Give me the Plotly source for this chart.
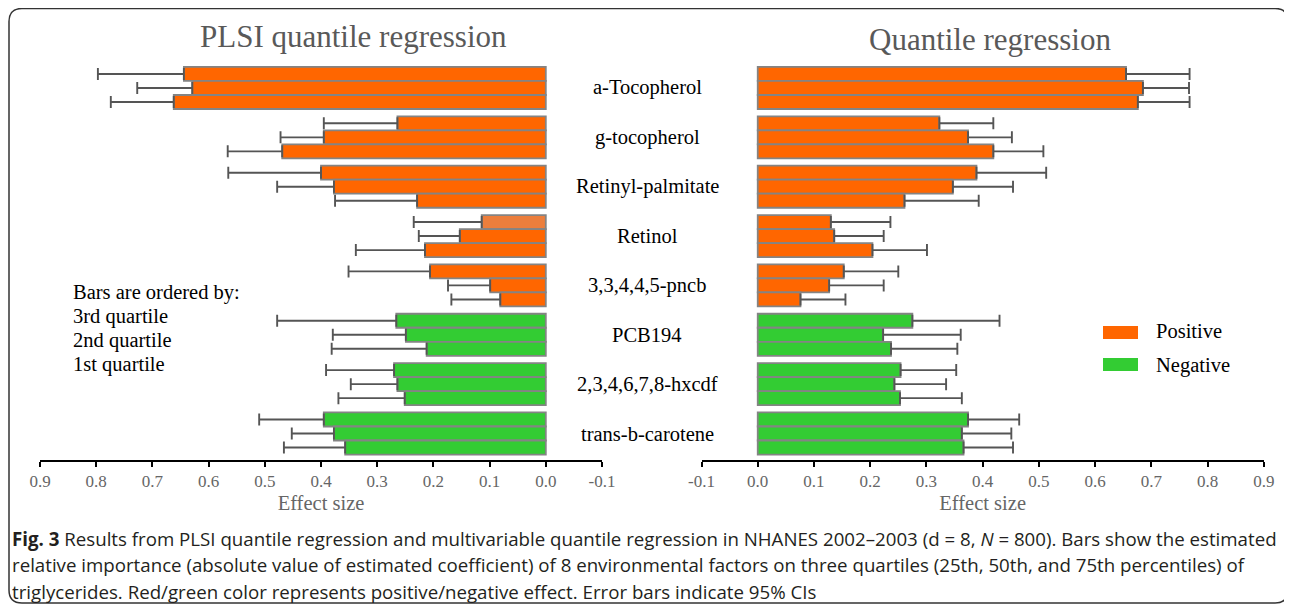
import plotly.graph_objects as go

# page has an 8px body margin; figure is sized to fill the remaining window
OFF = 8
W, H = 1292 - OFF, 609 - OFF

factors = ["a-Tocopherol", "g-tocopherol", "Retinyl-palmitate", "Retinol",
           "3,3,4,4,5-pncb", "PCB194", "2,3,4,6,7,8-hxcdf", "trans-b-carotene"]
sign = ["pos", "pos", "pos", "pos", "pos", "neg", "neg", "neg"]

# PLSI quantile regression (left panel): estimate and upper CI
plsi_q3 = [0.644, 0.264, 0.400, 0.114, 0.206, 0.266, 0.270, 0.395]
plsi_q3_hi = [0.797, 0.395, 0.565, 0.235, 0.351, 0.478, 0.391, 0.510]
plsi_q2 = [0.629, 0.395, 0.377, 0.153, 0.099, 0.249, 0.264, 0.377]
plsi_q2_hi = [0.727, 0.472, 0.478, 0.226, 0.174, 0.379, 0.347, 0.452]
plsi_q1 = [0.662, 0.469, 0.229, 0.215, 0.081, 0.212, 0.251, 0.357]
plsi_q1_hi = [0.774, 0.566, 0.375, 0.338, 0.168, 0.381, 0.369, 0.466]

# Multivariable quantile regression (right panel)
qr_q3 = [0.655, 0.323, 0.389, 0.130, 0.153, 0.275, 0.254, 0.374]
qr_q3_hi = [0.768, 0.419, 0.513, 0.236, 0.250, 0.430, 0.353, 0.465]
qr_q2 = [0.685, 0.374, 0.347, 0.136, 0.127, 0.223, 0.243, 0.363]
qr_q2_hi = [0.767, 0.452, 0.454, 0.224, 0.224, 0.361, 0.335, 0.451]
qr_q1 = [0.676, 0.419, 0.261, 0.204, 0.076, 0.237, 0.253, 0.366]
qr_q1_hi = [0.768, 0.508, 0.393, 0.301, 0.156, 0.355, 0.363, 0.454]

tick_vals = [-0.1, 0.0, 0.1, 0.2, 0.3, 0.4, 0.5, 0.6, 0.7, 0.8, 0.9]
tick_text = ["-0.1", "0.0", "0.1", "0.2", "0.3", "0.4", "0.5", "0.6", "0.7", "0.8", "0.9"]

caption_lines = [
    "<b>Fig. 3</b> Results from PLSI quantile regression and multivariable quantile regression in "
    "NHANES 2002–2003 (d = 8, <i>N</i> = 800). Bars show the estimated",
    "relative importance (absolute value of estimated coefficient) of 8 environmental factors on three "
    "quartiles (25th, 50th, and 75th percentiles) of",
    "triglycerides. Red/green color represents positive/negative effect. Error bars indicate 95% CIs",
]

ORANGE = "#FF6600"
GREEN = "#33CC33"
LIGHT_ORANGE = "#EC7E3C"


def px(x):
    return (x - OFF) / W


def py(y):
    return 1 - (y - OFF) / H


def colors(special=None):
    c = [ORANGE if s == "pos" else GREEN for s in sign]
    if special is not None:
        c[special] = LIGHT_ORANGE
    return c


SERIF = "Liberation Serif, Times New Roman, serif"

fig = go.Figure()

panels = [
    ("x", "y", [(plsi_q3, plsi_q3_hi, 3), (plsi_q2, plsi_q2_hi, None), (plsi_q1, plsi_q1_hi, None)]),
    ("x2", "y2", [(qr_q3, qr_q3_hi, None), (qr_q2, qr_q2_hi, None), (qr_q1, qr_q1_hi, None)]),
]
names = ["3rd quartile", "2nd quartile", "1st quartile"]
for xa, ya, series in panels:
    for (vals, hi, special), nm in zip(series, names):
        fig.add_trace(go.Bar(
            x=vals, y=factors, orientation="h", xaxis=xa, yaxis=ya, name=nm,
            showlegend=False,
            marker=dict(color=colors(special), line=dict(color="#848484", width=1.8)),
            error_x=dict(type="data", symmetric=False,
                         array=[h - v for h, v in zip(hi, vals)],
                         arrayminus=[0] * len(vals),
                         color="#555555", thickness=1.9, width=6),
        ))

y_bottom = 7 + 26.5 / 49.36
yrange = [y_bottom, -0.5]
ydom = [py(460), py(63.3)]


def xaxis_style(domain, rng, anchor):
    return dict(
        domain=domain, range=rng, anchor=anchor, automargin=False,
        tickmode="array", tickvals=tick_vals, ticktext=tick_text,
        showline=True, linecolor="black",
        linewidth=2, ticks="outside", ticklen=5, tickwidth=2, tickcolor="black",
        tickfont=dict(family=SERIF, size=17, color="#666666"), showgrid=False,
        zeroline=False,
        title=dict(text="Effect size", font=dict(family=SERIF, size=20.5, color="#666666"), standoff=5),
    )


def yaxis_style(anchor):
    return dict(domain=ydom, range=yrange, type="category", categoryarray=factors,
                showticklabels=False, showgrid=False, zeroline=False, showline=False,
                anchor=anchor, automargin=False)


fig.update_layout(
    template="none",
    width=W, height=H, margin=dict(l=0, r=0, t=0, b=0, pad=0), autosize=False,
    paper_bgcolor="white", plot_bgcolor="rgba(0,0,0,0)",
    barmode="group", bargap=0.148, bargroupgap=0,
    xaxis=xaxis_style([px(40), px(602)], [0.9, -0.1], "y"),
    xaxis2=xaxis_style([px(701.5), px(1263.8)], [-0.1, 0.9], "y2"),
    yaxis=yaxis_style("x"),
    yaxis2=yaxis_style("x2"),
    showlegend=False,
)

ann = []
# panel titles
ann.append(dict(text="PLSI quantile regression", x=px(353), y=py(37), xref="paper", yref="paper",
                xanchor="center", yanchor="middle",
                showarrow=False, font=dict(family=SERIF, size=31, color="#595959")))
ann.append(dict(text="Quantile regression", x=px(990), y=py(40), xref="paper", yref="paper",
                xanchor="center", yanchor="middle",
                showarrow=False, font=dict(family=SERIF, size=31, color="#595959")))
# factor labels between panels
for f in factors:
    ann.append(dict(text=f, x=px(647), y=f, xref="paper", yref="y", showarrow=False,
                    xanchor="center", yanchor="middle",
                    font=dict(family=SERIF, size=20.5, color="black")))
# ordering note
for i, line in enumerate(["Bars are ordered by:", "3rd quartile", "2nd quartile", "1st quartile"]):
    ann.append(dict(text=line, x=px(71), y=py(292 + i * 24.3), xref="paper", yref="paper",
                    xanchor="left", yanchor="middle", showarrow=False,
                    font=dict(family=SERIF, size=20.5, color="black")))
# legend
for lbl, yc in [("Positive", 331), ("Negative", 365)]:
    ann.append(dict(text=lbl, x=px(1154), y=py(yc), xref="paper", yref="paper", xanchor="left",
                    yanchor="middle", showarrow=False,
                    font=dict(family=SERIF, size=20.5, color="black")))
# caption
for line, yc in zip(caption_lines, [538, 564.5, 591]):
    ann.append(dict(text=line, x=px(10), y=py(yc), xref="paper", yref="paper", xanchor="left",
                    yanchor="middle", align="left", showarrow=False,
                    font=dict(family="Open Sans, sans-serif", size=18.7, color="#231F20")))
fig.update_layout(annotations=ann)

shapes = []
for col, y0, y1 in [(ORANGE, 326, 339), (GREEN, 358, 371)]:
    shapes.append(dict(type="rect", xref="paper", yref="paper", x0=px(1103), x1=px(1138),
                       y0=py(y1), y1=py(y0), fillcolor=col, line=dict(width=0)))

# rounded frame
L, R, T, B, r = 9, 1288, 8.5, 603, 13
path = (f"M {px(L + r)},{py(T)} L {px(R - r)},{py(T)} Q {px(R)},{py(T)} {px(R)},{py(T + r)} "
        f"L {px(R)},{py(B - r)} Q {px(R)},{py(B)} {px(R - r)},{py(B)} "
        f"L {px(L + r)},{py(B)} Q {px(L)},{py(B)} {px(L)},{py(B - r)} "
        f"L {px(L)},{py(T + r)} Q {px(L)},{py(T)} {px(L + r)},{py(T)} Z")
shapes.append(dict(type="path", xref="paper", yref="paper", path=path,
                   line=dict(color="#333333", width=1.5)))
fig.update_layout(shapes=shapes)

fig.write_html("out.html")
